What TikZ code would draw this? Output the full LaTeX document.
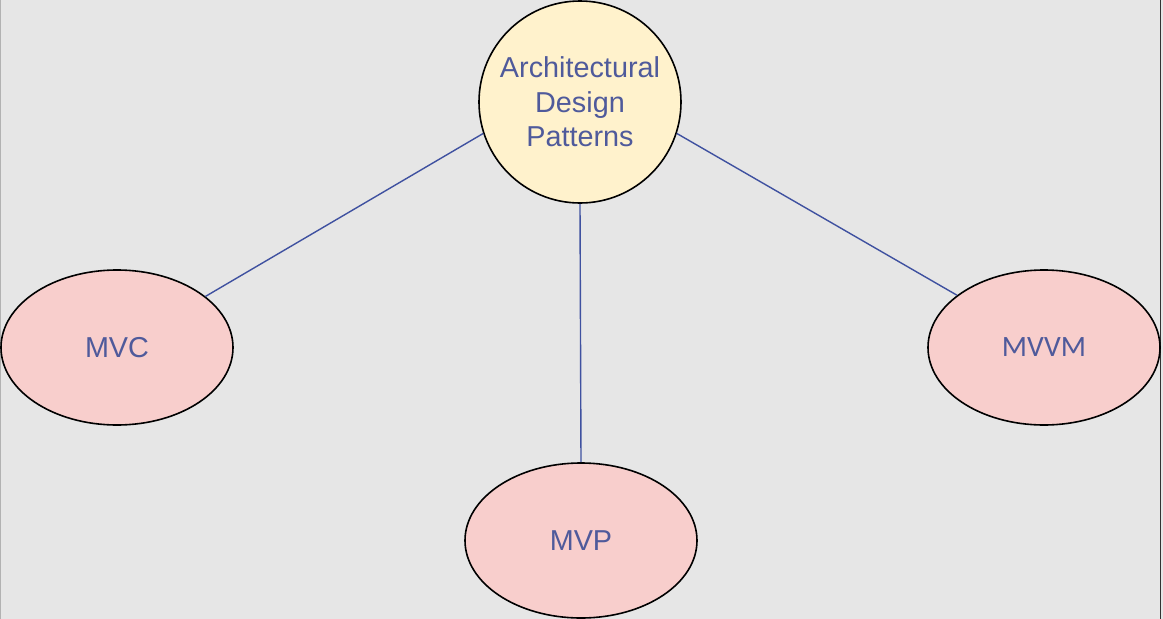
\documentclass[tikz,border=0pt]{standalone}
\usepackage{fontspec}
\setmainfont{Liberation Sans}
\newfontfamily\calfont{Carlito}
\usetikzlibrary{shapes.geometric}
\definecolor{bgc}{HTML}{E6E6E6}
\definecolor{yel}{HTML}{FFF2CC}
\definecolor{pnk}{HTML}{F8CECC}
\definecolor{txt}{HTML}{4F5A9B}
\definecolor{edg}{HTML}{3F51A0}
\tikzset{
  topic/.style={circle, draw=black, line width=1.6pt, fill=yel, minimum size=202pt, inner sep=0pt, text=txt, align=center, font=\fontsize{28.8}{34.5}\selectfont},
  leaf/.style={ellipse, draw=black, line width=1.6pt, fill=pnk, minimum width=232pt, minimum height=155pt, inner sep=0pt, text=txt, font=\fontsize{28.8}{34.5}\selectfont},
  link/.style={draw=edg, line width=1.4pt}
}
\begin{document}
\begin{tikzpicture}[x=1pt,y=-1pt]
\fill[bgc] (0,0) rectangle (1163,619);
\useasboundingbox (0,0) rectangle (1163,619);
\draw[gray!60, line width=1pt] (0.5,0) -- (0.5,619);
\draw[black!80, line width=1.2pt] (1160.8,0) -- (1160.8,619);
\node[topic] (adp) at (580,102) {Architectural\\Design\\Patterns};
\node[leaf] (mvc) at (117,347.5) {MVC};
\node[leaf] (mvp) at (581,540.5) {MVP};
\node[leaf, font=\calfont\fontsize{29.5}{34.5}\selectfont] (mvvm) at (1044,347.5) {MVVM};
\draw[link] (adp.198.4) -- (mvc.30.3);
\draw[link] (adp.south) -- (mvp.north);
\draw[link] (adp.342.6) -- (mvvm.149.4);
\end{tikzpicture}
\end{document}
